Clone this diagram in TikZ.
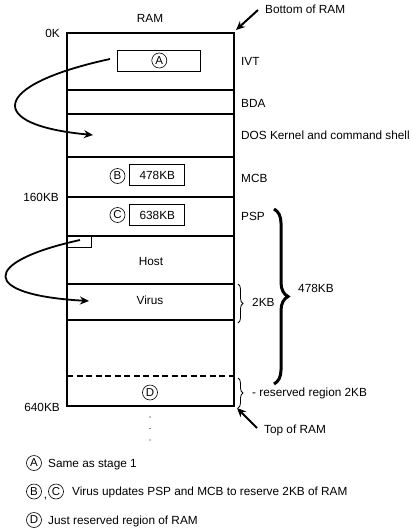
\documentclass[tikz,border=0pt]{standalone}
\usepackage{fontspec}
\setmainfont{Liberation Sans}
\usetikzlibrary{decorations.pathreplacing,arrows.meta}

\begin{document}
\begin{tikzpicture}[x=1pt,y=-1pt,font=\fontsize{11.8}{13}\selectfont,
                ram/.style = {line width=2pt},
                cell/.style = {draw, line width=0.8pt, minimum width=55pt, minimum height=21pt, inner sep=0pt},
                circ/.style = {draw, circle, line width=0.6pt, inner sep=0pt, minimum size=15pt, font=\fontsize{11.5}{11.5}\selectfont},
                lbl/.style = {inner sep=0pt, text height=8.4pt, text depth=0pt},
                hook/.style = {line width=1.8pt, -{Stealth[length=9pt,width=8pt]}},
                pointer/.style = {line width=2pt, -{Stealth[length=9pt,width=8pt]}},
                curly/.style = {decorate, decoration={brace, amplitude=#1}}]
                \useasboundingbox (0,0) rectangle (413,531);
                % memory map
                \draw[ram] (67,33) rectangle (234,405.5);
                \foreach \y in {90,114,157,196.7,236,284,319.5}
                    \draw[ram] (67,\y) -- (234,\y);
                \draw[ram, dash pattern=on 6pt off 3.5pt] (67,376) -- (234,376);
                \coordinate (ramtr) at (236,30);
                \coordinate (rambr) at (237,408);
                % inner boxes
                \node[cell, minimum width=83pt] (boxA) at (159.3,60.5) {};
                \node[circ] (cA) at (boxA) {A};
                \node[cell] (mcb) at (157.3,175) {478KB};
                \node[circ] (cB) at (117.5,176) {B};
                \node[cell] (psp) at (157.3,215.2) {638KB};
                \node[circ] (cC) at (117.5,215) {C};
                \node[draw, line width=0.6pt, anchor=north west, minimum width=24pt, minimum height=11.3pt, inner sep=0pt] (hdr) at (67,236) {};
                \node[lbl] (host) at (151,261) {Host};
                \node[lbl] (virus) at (150,300.5) {Virus};
                \node[circ] (cD) at (150,392.5) {D};
                % labels
                \node[lbl] (ram) at (150,18) {RAM};
                \node[lbl, anchor=west] (ivt) at (241,61) {IVT};
                \node[lbl, anchor=west] (bda) at (241,103) {BDA};
                \node[lbl, anchor=west] (dos) at (241,135) {DOS Kernel and command shell};
                \node[lbl, anchor=west] (mcbl) at (241,178.5) {MCB};
                \node[lbl, anchor=west] (pspl) at (241,216) {PSP};
                \node[lbl, anchor=east] (k0) at (60,33) {0K};
                \node[lbl, anchor=east] (k160) at (59,197) {160KB};
                \node[lbl, anchor=east] (k640) at (60,407.5) {640KB};
                \node[lbl, anchor=west] (bot) at (265,9) {Bottom of RAM};
                \node[lbl, anchor=west] (top) at (264,429) {Top of RAM};
                \draw[pointer] ([xshift=-7pt,yshift=-1pt]bot.west) -- (ramtr);
                \draw[pointer] ([xshift=-7pt,yshift=1pt]top.west) -- (rambr);
                % braces
                \draw[curly=5pt, line width=0.8pt] (238,284) -- (238,323);
                \node[lbl, anchor=west] (kb2) at (252,302) {2KB};
                \draw[curly=14pt, line width=3pt] (274,209) -- (274,384);
                \node[lbl, anchor=west] (kb478) at (298,288) {478KB};
                \draw[curly=5pt, line width=0.8pt] (238,378) -- (238,408);
                \node[lbl, anchor=west] (resv) at (252,392) {- reserved region 2KB};
                \foreach \y in {417,428.5,440}
                    \fill (150,\y) circle (0.7pt);
                % jumps
                \coordinate (s1) at (110,59);
                \coordinate (t1) at (93,135);
                \draw[hook] (s1) .. controls (-10,85) and (-15,125) .. (t1);
                \coordinate (s2) at (80,240);
                \coordinate (t2) at (89,301);
                \draw[hook] (s2) .. controls (-20,262) and (-20,295) .. (t2);
                % legend
                \node[circ] (lA) at (34,463) {A};
                \node[lbl, anchor=west] at (48,463) {Same as stage 1};
                \node[circ] (lB) at (34,491.5) {B};
                \node[lbl] at (45.5,494) {,};
                \node[circ] (lC) at (56,491.5) {C};
                \node[lbl, anchor=west] at (72,491.5) {Virus updates PSP and MCB to reserve 2KB of RAM};
                \node[circ] (lD) at (34,520) {D};
                \node[lbl, anchor=west] at (48,520) {Just reserved region of RAM};
            \end{tikzpicture}
\end{document}
